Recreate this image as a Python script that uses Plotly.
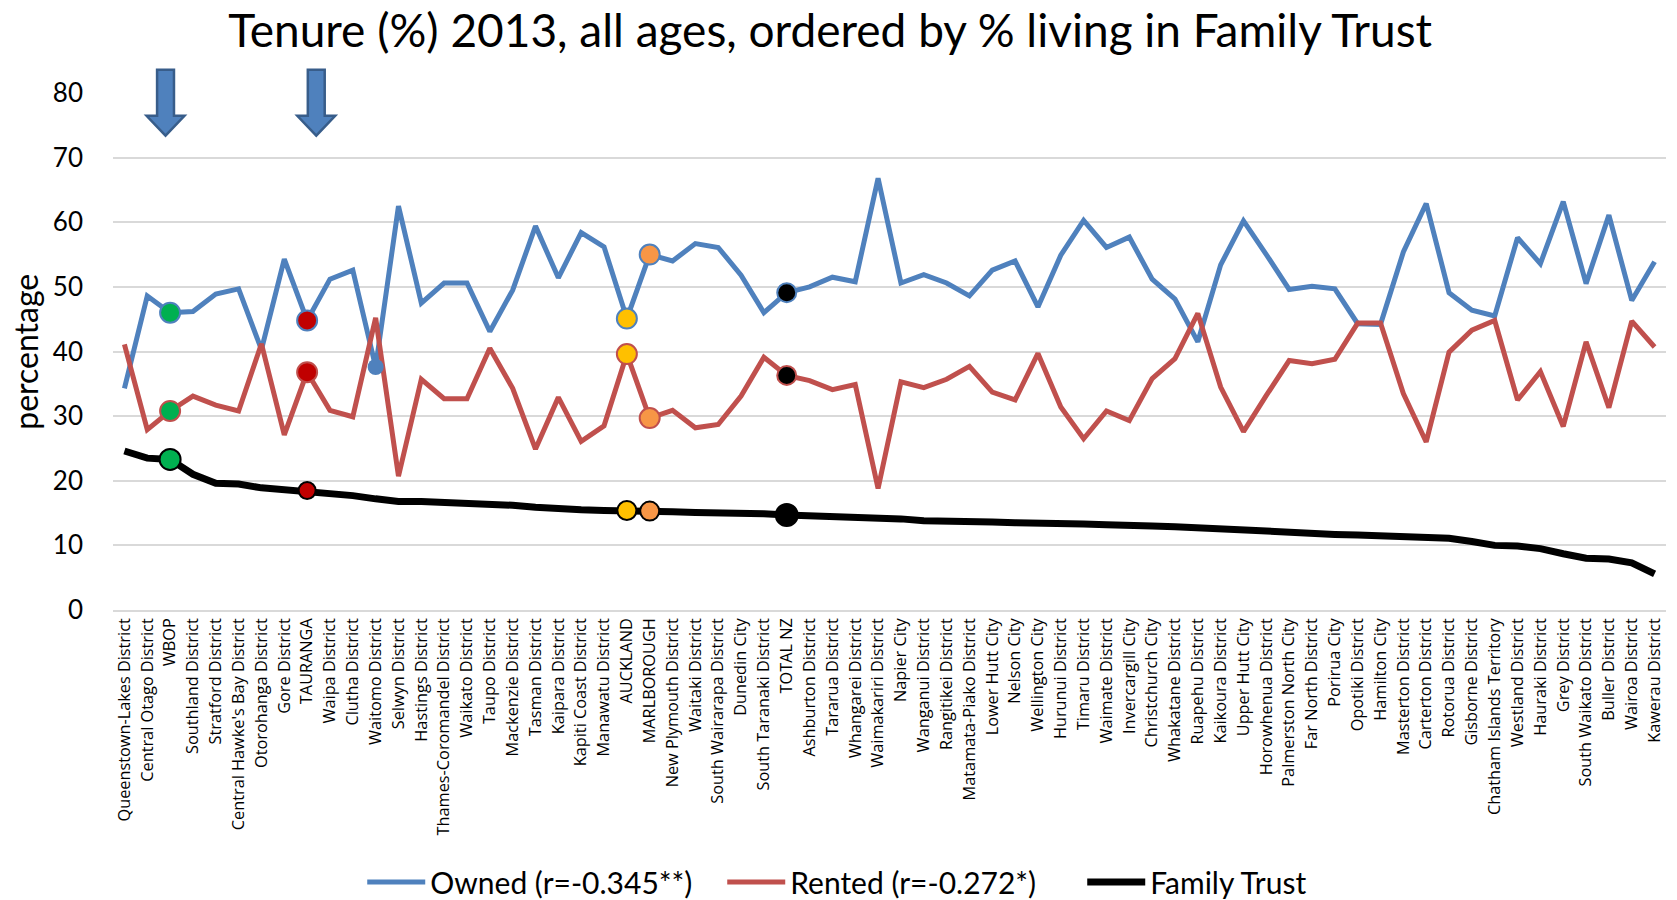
import plotly.graph_objects as go

categories = [
    "Queenstown-Lakes District", "Central Otago District", "WBOP", "Southland District",
    "Stratford District", "Central Hawke's Bay District", "Otorohanga District", "Gore District",
    "TAURANGA", "Waipa District", "Clutha District", "Waitomo District", "Selwyn District",
    "Hastings District", "Thames-Coromandel District", "Waikato District", "Taupo District",
    "Mackenzie District", "Tasman District", "Kaipara District", "Kapiti Coast District",
    "Manawatu District", "AUCKLAND", "MARLBOROUGH", "New Plymouth District", "Waitaki District",
    "South Wairarapa District", "Dunedin City", "South Taranaki District", "TOTAL NZ",
    "Ashburton District", "Tararua District", "Whangarei District", "Waimakariri District",
    "Napier City", "Wanganui District", "Rangitikei District", "Matamata-Piako District",
    "Lower Hutt City", "Nelson City", "Wellington City", "Hurunui District", "Timaru District",
    "Waimate District", "Invercargill City", "Christchurch City", "Whakatane District",
    "Ruapehu District", "Kaikoura District", "Upper Hutt City", "Horowhenua District",
    "Palmerston North City", "Far North District", "Porirua City", "Opotiki District",
    "Hamilton City", "Masterton District", "Carterton District", "Rotorua District",
    "Gisborne District", "Chatham Islands Territory", "Westland District", "Hauraki District",
    "Grey District", "South Waikato District", "Buller District", "Wairoa District",
    "Kawerau District",
]

owned = [
    34.3, 48.6, 46.0, 46.2, 48.9, 49.7, 40.3, 54.3, 44.8, 51.2,
    52.6, 37.6, 62.5, 47.5, 50.6, 50.6, 43.1, 49.5, 59.4, 51.4,
    58.4, 56.2, 45.1, 55.0, 54.0, 56.7, 56.1, 51.8, 46.0, 49.1,
    50.0, 51.5, 50.8, 66.8, 50.6, 51.9, 50.6, 48.6, 52.6, 54.0,
    46.9, 54.9, 60.3, 56.1, 57.7, 51.2, 48.1, 41.5, 53.4, 60.2,
    55.0, 49.6, 50.1, 49.7, 44.3, 44.2, 55.4, 62.9, 49.1, 46.4,
    45.5, 57.6, 53.6, 63.2, 50.5, 61.1, 47.9, 53.9,
]

rented = [
    41.1, 27.9, 30.8, 33.1, 31.7, 30.8, 41.2, 27.1, 36.8, 30.9,
    29.9, 45.2, 20.7, 35.7, 32.7, 32.7, 40.5, 34.3, 24.9, 32.9,
    26.1, 28.5, 39.6, 29.7, 30.9, 28.2, 28.7, 33.1, 39.1, 36.3,
    35.5, 34.1, 34.9, 18.8, 35.3, 34.4, 35.7, 37.7, 33.7, 32.5,
    39.7, 31.4, 26.5, 30.8, 29.3, 35.8, 38.9, 45.9, 34.5, 27.6,
    33.2, 38.6, 38.1, 38.8, 44.4, 44.4, 33.5, 26.0, 39.9, 43.3,
    44.8, 32.5, 36.9, 28.4, 41.5, 31.3, 44.7, 40.7,
]

family_trust = [
    24.6, 23.5, 23.3, 21.0, 19.6, 19.5, 18.9, 18.6, 18.5, 18.1,
    17.7, 17.2, 16.8, 16.8, 16.7, 16.6, 16.3, 16.2, 15.9, 15.6,
    15.5, 15.4, 15.4, 15.3, 15.2, 15.1, 15.1, 15.0, 14.9, 14.7,
    14.6, 14.5, 14.4, 14.3, 14.1, 13.8, 13.8, 13.7, 13.6, 13.5,
    13.5, 13.5, 13.3, 13.2, 13.0, 13.0, 12.9, 12.7, 12.5, 12.3,
    12.1, 12.0, 11.9, 11.7, 11.6, 11.5, 11.4, 11.3, 11.1, 10.6,
    10.0, 9.9, 9.5, 8.7, 8.0, 7.9, 7.3, 5.6,
]

series_names = ["Owned (r=-0.345**)", "Rented (r=-0.272*)", "Family Trust"]
series_colors = ["#4F81BD", "#C0504D", "#000000"]
series_widths = [5, 5, 7]

highlight_points = ["WBOP", "TAURANGA", "AUCKLAND", "MARLBOROUGH", "TOTAL NZ"]
highlight_colors = ["#00B050", "#C00000", "#FFC000", "#F79646", "#000000"]
highlight_sizes_main = [20, 20, 20, 20, 19]
highlight_sizes_ft = [21, 17, 19, 19, 22]

arrow_targets = ["WBOP", "TAURANGA"]
arrow_offsets = [-0.2, 0.4]

x = list(range(len(categories)))
fig = go.Figure()

for vals, name, color, width in zip([owned, rented, family_trust], series_names,
                                    series_colors, series_widths):
    fig.add_trace(go.Scatter(x=x, y=vals, mode="lines", name=name,
                             line=dict(color=color, width=width)))

# Waitomo blob on the Owned series
waitomo = categories.index("Waitomo District")
fig.add_trace(go.Scatter(x=[waitomo], y=[owned[waitomo]], mode="markers", showlegend=False,
                         marker=dict(color="#4F81BD", size=16, opacity=1, line=dict(width=0))))

idx = [categories.index(c) for c in highlight_points]
for vals, border, sizes in [(owned, "#4F81BD", highlight_sizes_main),
                            (rented, "#C0504D", highlight_sizes_main),
                            (family_trust, "#000000", highlight_sizes_ft)]:
    fig.add_trace(go.Scatter(
        x=idx, y=[vals[i] for i in idx], mode="markers", showlegend=False,
        marker=dict(color=highlight_colors, size=sizes, opacity=1,
                    line=dict(color=border, width=2)),
    ))

# block arrows pointing at highlighted categories
for name, off in zip(arrow_targets, arrow_offsets):
    c = categories.index(name) + off
    sw, hw = 0.37, 0.83
    top, neck, tip = 1.045, 0.956, 0.9175
    path = (f"M {c - sw},{top} L {c + sw},{top} L {c + sw},{neck} L {c + hw},{neck} "
            f"L {c},{tip} L {c - hw},{neck} L {c - sw},{neck} Z")
    fig.add_shape(type="path", path=path, xref="x", yref="paper",
                  fillcolor="#4F81BD", line=dict(color="#385D8A", width=2.5), layer="above")

fig.add_annotation(text="percentage", textangle=-90, xref="paper", yref="paper",
                   x=-0.0565, y=0.5, xanchor="center", yanchor="middle", showarrow=False,
                   font=dict(family="Lato", size=32, color="#000000"))

fig.update_layout(
    width=1677, height=900,
    margin=dict(l=113, r=11, t=93, b=290),
    paper_bgcolor="white", plot_bgcolor="white",
    title=dict(text="Tenure (%) 2013, all ages, ordered by % living in Family Trust",
               x=0.495, xanchor="center", y=0.966, yanchor="middle",
               font=dict(family="Lato", size=46, color="#000000")),
    xaxis=dict(range=[-0.5, len(categories) - 0.5], tickmode="array", tickvals=x,
               ticktext=categories, tickangle=-90, showgrid=False, zeroline=False,
               showline=True, linecolor="#D9D9D9", linewidth=1.5, ticks="",
               tickfont=dict(family="Open Sans", size=16.3, color="#000000")),
    yaxis=dict(range=[0, 80], dtick=10, showgrid=True, gridcolor="#D9D9D9", gridwidth=1.5,
               zeroline=True, zerolinecolor="#D9D9D9", zerolinewidth=1.5, showline=False,
               ticks="", ticklabelstandoff=29,
               tickfont=dict(family="Lato", size=26, color="#000000")),
    legend=dict(orientation="h", xref="container", yref="container", x=0.216, y=0.02,
                xanchor="left", yanchor="middle", itemwidth=58,
                entrywidth=287, entrywidthmode="pixels",
                font=dict(family="Lato", size=30, color="#000000")),
    showlegend=True,
)

fig.write_html(
    "out.html",
    config={"displayModeBar": False},
    post_script="document.body.style.margin='0';document.body.style.overflow='hidden';",
)
